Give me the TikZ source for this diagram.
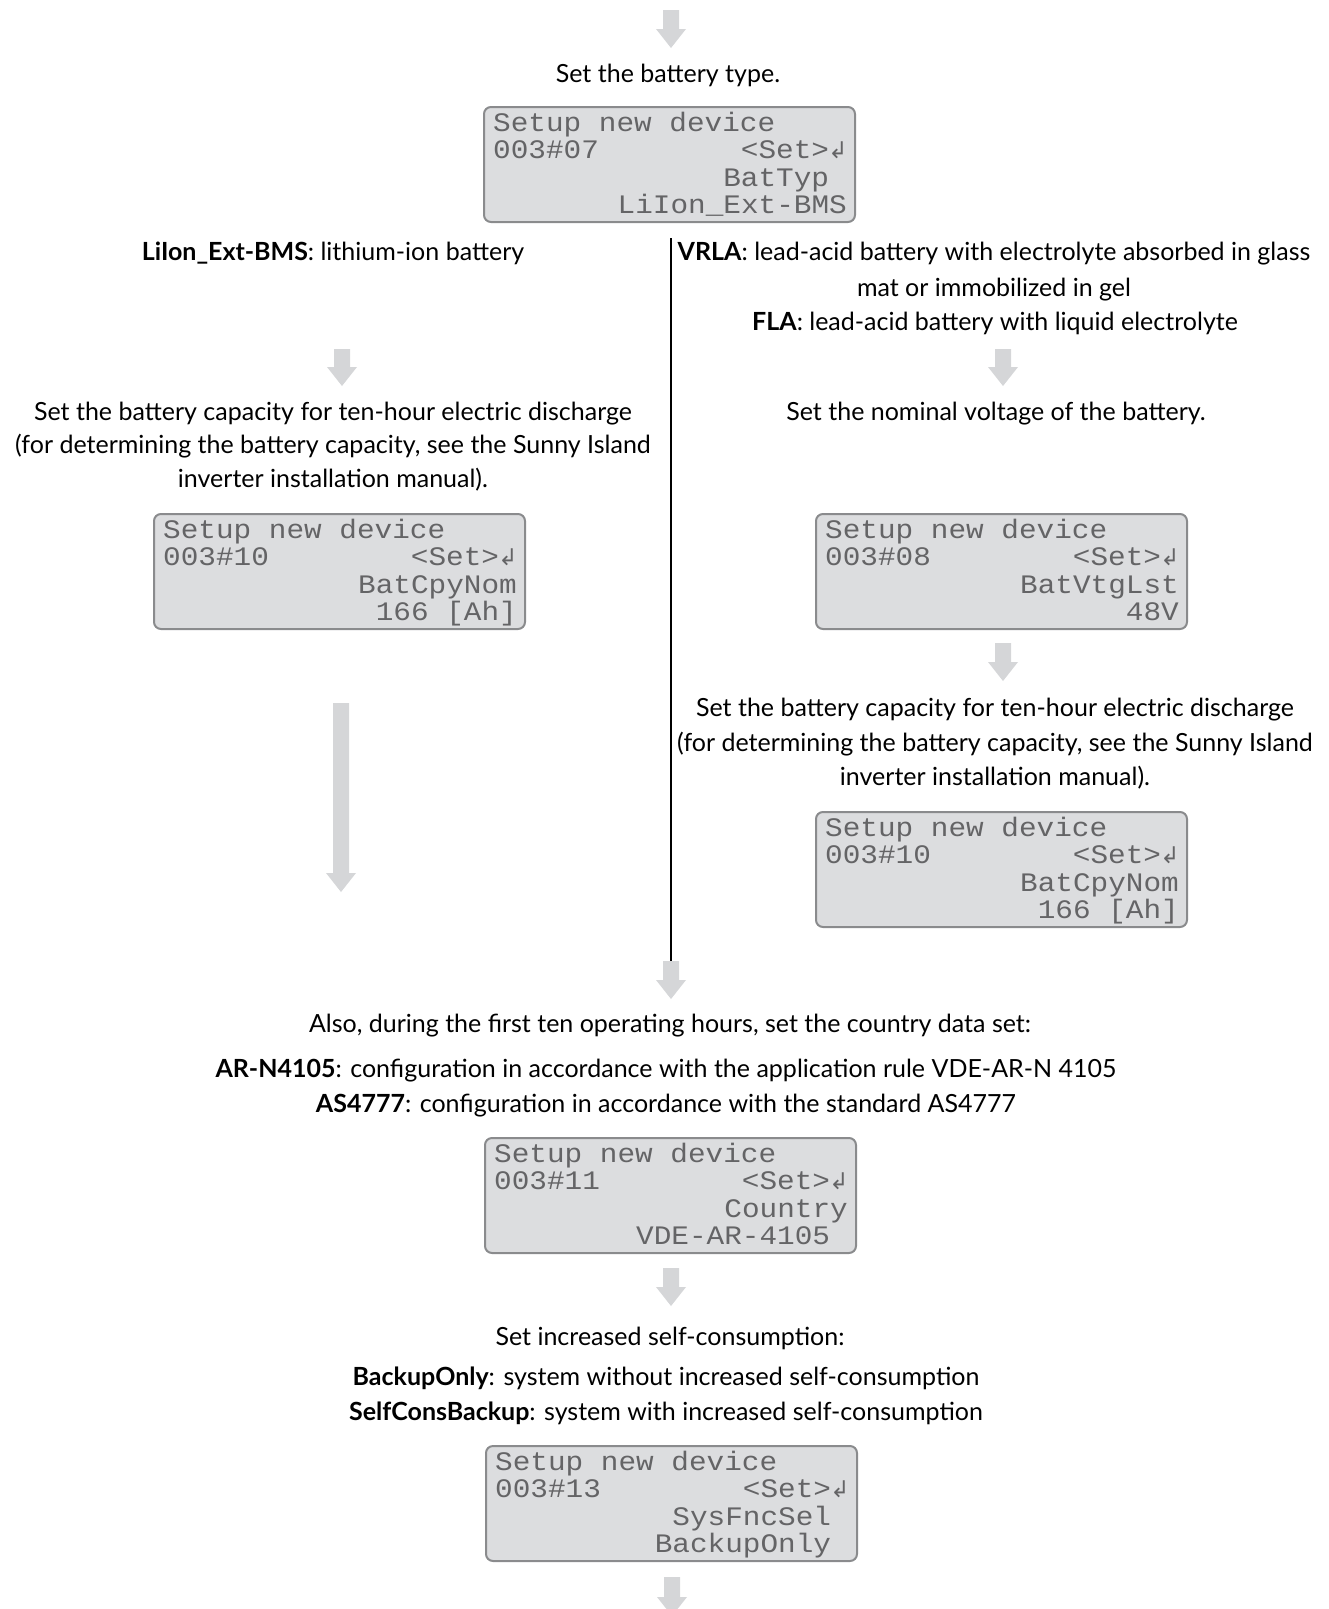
\documentclass[tikz,border=0pt]{standalone}
\usepackage{fontspec}
\setmainfont{Lato}
\newfontfamily\lcdfont[FakeStretch=1.1]{Liberation Mono}
\newfontfamily\symfont{DejaVu Sans}
\definecolor{arrowgray}{RGB}{213,214,216}
\definecolor{lcdfill}{RGB}{220,221,223}
\definecolor{lcdborder}{RGB}{138,139,141}
\definecolor{lcdtext}{RGB}{100,100,102}
\newcommand{\enterkey}{\makebox[17.7pt][c]{\symfont\fontsize{23}{23}\selectfont ↲}}
% block arrow: x, top, tip
\newcommand{\blockarrow}[3]{%
  \fill[arrowgray] (#1-8,#2) -- (#1+8,#2) -- (#1+8,#3-19) -- (#1+15,#3-19) -- (#1,#3) -- (#1-15,#3-19) -- (#1-8,#3-19) -- cycle;}
% LCD: name, x, y, code, line3, trailing3, line4, trailing4
\newcommand{\lcdscreen}[8]{%
  \node[lcdbox] (#1) at (#2,#3) {};
  \node[lcdl] (#1-a) at (#2+10,#3+25) {Setup new device};
  \node[lcdl] (#1-b) at (#2+10,#3+52.5) {#4};
  \node[lcdr] (#1-c) at (#2+10+20*17.7,#3+52.5) {<Set>\enterkey};
  \node[lcdr] (#1-d) at (#2+10+20*17.7-#6*17.7,#3+80) {#5};
  \node[lcdr] (#1-e) at (#2+10+20*17.7-#8*17.7,#3+107.5) {#7};
}
\begin{document}
\begin{tikzpicture}[x=1pt,y=-1pt,
  txt/.style={anchor=base, inner sep=0pt, font=\fontsize{25}{30}\selectfont},
  lcdbox/.style={draw=lcdborder, fill=lcdfill, line width=2pt, rounded corners=7pt,
    minimum width=371pt, minimum height=115pt, inner sep=0pt, anchor=north west},
  lcdl/.style={anchor=base west, inner sep=0pt, text=lcdtext, font=\lcdfont\fontsize{26.7}{26.7}\selectfont},
  lcdr/.style={anchor=base east, inner sep=0pt, text=lcdtext, font=\lcdfont\fontsize{26.7}{26.7}\selectfont},
  vline/.style={draw=black, line width=2.5pt}]
\useasboundingbox (0,0) rectangle (1328,1609);

% arrows
\blockarrow{671}{10}{48}
\blockarrow{342}{349}{386}
\blockarrow{1003}{349}{386}
\blockarrow{1003}{643}{681}
\blockarrow{341}{703}{892}
\blockarrow{671}{961}{999}
\blockarrow{671}{1268}{1306}
\blockarrow{672}{1577}{1616}

% divider line
\coordinate (ltop) at (671,238);
\coordinate (lbot) at (671,961);
\draw[vline] (ltop) -- (lbot);

% texts
\node[txt] (t0) at (668,82) {Set the battery type.};
\node[txt] (l0) at (333,260) {\textbf{LiIon\_Ext-BMS}: lithium-ion battery};
\node[txt] (r0a) at (994,260) {\textbf{VRLA}: lead-acid battery with electrolyte absorbed in glass};
\node[txt] (r0b) at (994,296) {mat or immobilized in gel};
\node[txt] (r0c) at (995,330) {\textbf{FLA}: lead-acid battery with liquid electrolyte};
\node[txt] (l1a) at (333,420) {Set the battery capacity for ten-hour electric discharge};
\node[txt] (l1b) at (333,453) {(for determining the battery capacity, see the Sunny Island};
\node[txt] (l1c) at (333,487) {inverter installation manual).};
\node[txt] (r1) at (996,420) {Set the nominal voltage of the battery.};
\node[txt] (r2a) at (995,716) {Set the battery capacity for ten-hour electric discharge};
\node[txt] (r2b) at (995,751) {(for determining the battery capacity, see the Sunny Island};
\node[txt] (r2c) at (995,785) {inverter installation manual).};
\node[txt] (m1) at (670,1032) {Also, during the first ten operating hours, set the country data set:};
\node[txt] (m2) at (666,1077) {\textbf{AR-N4105}: configuration in accordance with the application rule VDE-AR-N 4105};
\node[txt] (m3) at (666,1112) {\textbf{AS4777}: configuration in accordance with the standard AS4777};
\node[txt] (m4) at (670,1345) {Set increased self-consumption:};
\node[txt] (m5) at (666,1385) {\textbf{BackupOnly}: system without increased self-consumption};
\node[txt] (m6) at (666,1420) {\textbf{SelfConsBackup}: system with increased self-consumption};

% LCD screens
\lcdscreen{b1}{483}{106}{003\#07}{BatTyp}{1}{LiIon\_Ext-BMS}{0}
\lcdscreen{b2}{153}{513}{003\#10}{BatCpyNom}{0}{166 [Ah]}{0}
\lcdscreen{b3}{815}{513}{003\#08}{BatVtgLst}{0}{48V}{0}
\lcdscreen{b4}{815}{811}{003\#10}{BatCpyNom}{0}{166 [Ah]}{0}
\lcdscreen{b5}{484}{1137}{003\#11}{Country}{0}{VDE-AR-4105}{1}
\lcdscreen{b6}{485}{1445}{003\#13}{SysFncSel}{1}{BackupOnly}{1}
\end{tikzpicture}
\end{document}
